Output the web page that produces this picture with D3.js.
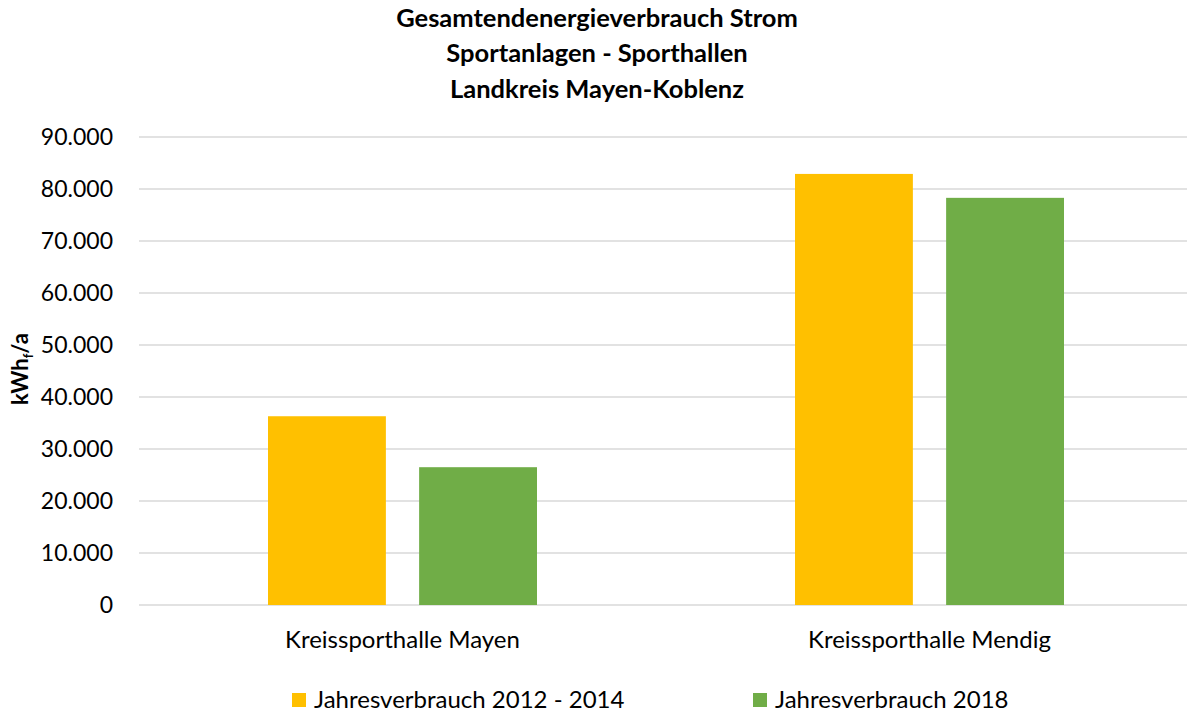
<!DOCTYPE html>
<html>
<head>
<meta charset="utf-8">
<script src="https://cdn.jsdelivr.net/npm/d3@7"></script>
<style>
  body { margin: 0; background: #fff; }
  svg { font-family: Lato, "Open Sans", sans-serif; }
</style>
</head>
<body>
<svg id="chart" width="1187" height="714"></svg>
<script>
// data
const categories = ["Kreissporthalle Mayen", "Kreissporthalle Mendig"];
const seriesNames = ["Jahresverbrauch 2012 - 2014", "Jahresverbrauch 2018"];
const seriesColors = ["#ffc000", "#70ad47"];
const values2012_2014 = [36300, 82900];
const values2018 = [26500, 78300];
const yTicks = [0, 10000, 20000, 30000, 40000, 50000, 60000, 70000, 80000, 90000];
const titleLines = ["Gesamtendenergieverbrauch Strom", "Sportanlagen - Sporthallen", "Landkreis Mayen-Koblenz"];

const svg = d3.select("#chart");
const margin = { left: 139, right: -6, top: 137, bottom: 109 };
const width = 1187, height = 714;

const x = d3.scaleBand()
    .domain(categories)
    .range([margin.left, width - margin.right]);

const y = d3.scaleLinear()
    .domain([0, 90000])
    .range([height - margin.bottom, margin.top]);

const xSub = d3.scaleBand()
    .domain(seriesNames)
    .range([0, 269])
    .paddingInner(0.22);

const fmt = v => d3.format(",")(v).replace(/,/g, ".");

// gridlines
svg.append("g")
    .selectAll("line")
    .data(yTicks)
    .join("line")
    .attr("x1", margin.left)
    .attr("x2", width)
    .attr("y1", d => y(d))
    .attr("y2", d => y(d))
    .attr("stroke", "#d9d9d9")
    .attr("stroke-width", 1.5);

// y tick labels
svg.append("g")
    .selectAll("text")
    .data(yTicks)
    .join("text")
    .attr("x", 113)
    .attr("y", d => y(d))
    .attr("dy", "0.35em")
    .attr("text-anchor", "end")
    .attr("font-size", 23)
    .attr("fill", "#000")
    .text(d => fmt(d));

// bars
const series = [values2012_2014, values2018];
series.forEach((vals, si) => {
    svg.append("g")
        .selectAll("rect")
        .data(categories)
        .join("rect")
        .attr("x", (c) => x(c) + (x.bandwidth() - 269) / 2 + xSub(seriesNames[si]))
        .attr("width", xSub.bandwidth())
        .attr("y", (c, i) => y(vals[i]))
        .attr("height", (c, i) => y(0) - y(vals[i]))
        .attr("fill", seriesColors[si]);
});

// category labels
svg.append("g")
    .selectAll("text")
    .data(categories)
    .join("text")
    .attr("x", c => x(c) + x.bandwidth() / 2)
    .attr("y", 640)
    .attr("dy", "0.35em")
    .attr("text-anchor", "middle")
    .attr("font-size", 24)
    .attr("fill", "#000")
    .text(c => c);

// title
svg.append("g")
    .selectAll("text")
    .data(titleLines)
    .join("text")
    .attr("x", 597)
    .attr("y", (d, i) => 18 + i * 35.5)
    .attr("dy", "0.35em")
    .attr("text-anchor", "middle")
    .attr("font-size", 25.5)
    .attr("font-weight", "bold")
    .attr("fill", "#000")
    .text(d => d);

// y axis label
const yl = svg.append("text")
    .attr("transform", "translate(28,369) rotate(-90)")
    .attr("text-anchor", "middle")
    .attr("font-size", 22)
    .attr("font-weight", "bold")
    .attr("fill", "#000");
yl.append("tspan").text("kWh");
yl.append("tspan").attr("font-size", 13).attr("dy", 5).text("f");
yl.append("tspan").attr("dy", -5).text("/a");

// legend
const legendX = [292, 753];
const legend = svg.append("g")
    .selectAll("g")
    .data(seriesNames)
    .join("g")
    .attr("transform", (d, i) => `translate(${legendX[i]},700)`);
legend.append("rect")
    .attr("x", 0).attr("y", -7)
    .attr("width", 14).attr("height", 14)
    .attr("fill", (d, i) => seriesColors[i]);
legend.append("text")
    .attr("x", 22)
    .attr("dy", "0.35em")
    .attr("font-size", 24)
    .attr("fill", "#000")
    .text(d => d);
</script>
</body>
</html>
